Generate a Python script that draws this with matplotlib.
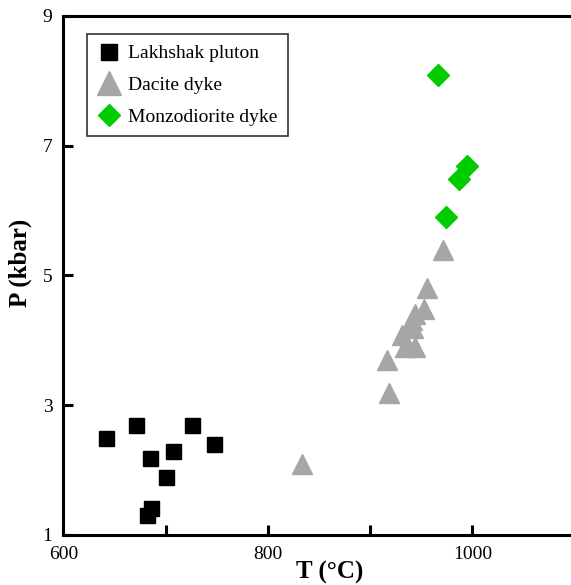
import matplotlib
matplotlib.use("Agg")
import matplotlib.pyplot as plt

plt.rcParams['font.family'] = ['Liberation Serif', 'DejaVu Serif']

lakh_T = [641.6, 670.9, 725.4, 747.5, 707.4, 684.9, 700.2, 685.3, 682.0]
lakh_P = [2.50, 2.69, 2.69, 2.40, 2.30, 2.19, 1.90, 1.41, 1.31]

dac_T = [970.8, 955.5, 952.9, 943.8, 940.5, 941.5, 931.0, 934.0, 943.8, 916.7, 918.0, 833.6]
dac_P = [5.39, 4.80, 4.49, 4.40, 4.31, 4.19, 4.09, 3.90, 3.89, 3.70, 3.19, 2.10]

mon_T = [966.2, 994.6, 987.1, 974.1]
mon_P = [8.09, 6.69, 6.49, 5.90]

x_ticks = [600, 700, 800, 900, 1000]
x_labels = ['600', '', '800', '', '1000']
y_ticks = [1, 3, 5, 7, 9]

fig = plt.figure(figsize=(5.71, 5.85), dpi=100)
ax = fig.add_axes([0.1112, 0.0855, 0.8953, 0.8872])

ax.plot(lakh_T, lakh_P, 's', color='black', markersize=10.8, linestyle='none',
        label='Lakhshak pluton', clip_on=False)
ax.plot(dac_T, dac_P, '^', color='#a6a6a6', markersize=15, linestyle='none',
        label='Dacite dyke', clip_on=False)
ax.plot(mon_T, mon_P, 'D', color='#00cc00', markersize=11.2, linestyle='none',
        label='Monzodiorite dyke', clip_on=False)

ax.set_xlim(600, 1100)
ax.set_ylim(1, 9)
ax.set_xticks(x_ticks)
ax.set_xticklabels(x_labels)
ax.set_yticks(y_ticks)

for s in ['left', 'bottom', 'top']:
    ax.spines[s].set_linewidth(2.2)
ax.spines['right'].set_visible(False)

ax.tick_params(direction='in', length=7, width=2.2, labelsize=14, pad=8)

ax.set_xlabel('T (°C)', fontsize=18, fontweight='bold')
ax.set_ylabel('P (kbar)', fontsize=18, fontweight='bold')
ax.xaxis.set_label_coords(0.52, -0.050)
ax.yaxis.set_label_coords(-0.062, 0.524)

leg = ax.legend(loc='upper left', bbox_to_anchor=(0.046, 0.965), borderaxespad=0,
                fontsize=14, frameon=True, fancybox=False, edgecolor='black',
                handletextpad=0.35, labelspacing=0.72, borderpad=0.55, handlelength=1.2)
leg.get_frame().set_linewidth(1.2)
leg.legend_handles[1].set_markersize(17.5)
leg.legend_handles[0].set_markersize(11)

fig.savefig('out.png', dpi=100)
